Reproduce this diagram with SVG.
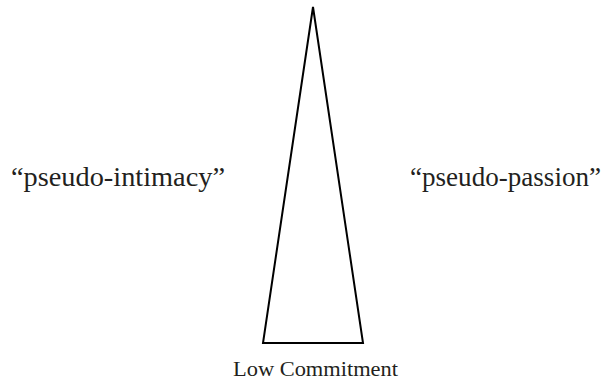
<svg xmlns="http://www.w3.org/2000/svg" width="604" height="382" viewBox="0 0 604 382">
<style>
text{font-family:"Liberation Serif","Times New Roman",serif;fill:#231f20}
.big{font-size:27.5px}
.small{font-size:20px}
.shape{fill:none;stroke:#000;stroke-width:2;stroke-linejoin:miter}
</style>
<rect width="604" height="382" fill="#fff"/>
<g id="triangle"><polygon class="shape" points="313,7 263,343 363,343"/></g>
<g id="connectors"></g>
<g id="label-intimacy"><text class="big" x="11" y="186" textLength="214" lengthAdjust="spacingAndGlyphs">“pseudo-intimacy”</text></g>
<g id="label-passion"><text class="big" x="410" y="186" textLength="191" lengthAdjust="spacingAndGlyphs">“pseudo-passion”</text></g>
<g id="label-commitment"><text class="small" x="233" y="376" textLength="165" lengthAdjust="spacingAndGlyphs">Low Commitment</text></g>
</svg>
